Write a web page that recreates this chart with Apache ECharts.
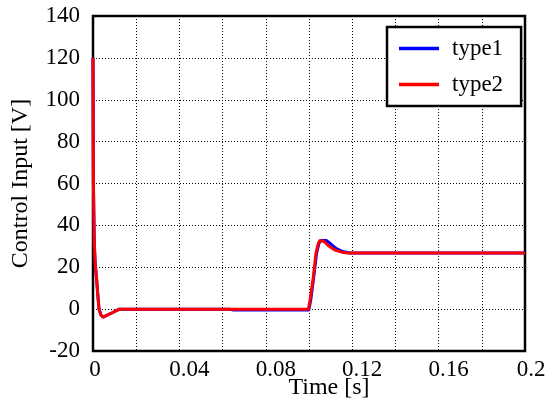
<!DOCTYPE html>
<html>
<head>
<meta charset="utf-8">
<script src="https://cdn.jsdelivr.net/npm/echarts@6/dist/echarts.min.js"></script>
<style>html,body{margin:0;padding:0;background:#fff;}#c{width:553px;height:403px;}</style>
</head>
<body>
<div id="c"></div>
<script>
// ---- data ----
const seriesNames = ['type1', 'type2'];
const xTickLabels = ['0', '0.04', '0.08', '0.12', '0.16', '0.2'];
const yTickLabels = ['-20', '0', '20', '40', '60', '80', '100', '120', '140'];

const time1 = [0, 0.0001, 0.0002, 0.0004, 0.0006, 0.001, 0.0017, 0.0022, 0.0028, 0.0037, 0.0047, 0.008, 0.0122, 0.063, 0.065, 0.0999, 0.1008, 0.1022, 0.1035, 0.1046, 0.1054, 0.1062, 0.108, 0.110, 0.1125, 0.1155, 0.119, 0.2];
const type1 = [120, 90, 60, 45, 31.5, 22, 14, 7, 0, -2.8, -3.8, -2.2, 0, 0, -0.4, -0.4, 4.3, 15.4, 26.6, 31.4, 32.8, 33.2, 32.8, 31.2, 29, 27.5, 26.8, 26.8];

const time2 = [0, 0.0001, 0.0002, 0.0004, 0.0006, 0.001, 0.0017, 0.0022, 0.0028, 0.0037, 0.0047, 0.008, 0.0122, 0.06, 0.0997, 0.1005, 0.102, 0.1032, 0.1043, 0.105, 0.1059, 0.107, 0.109, 0.112, 0.1159, 0.118, 0.2];
const type2 = [120, 90, 60, 45, 31.5, 22, 14, 7, 0, -2.8, -3.8, -2.2, 0, 0, 0, 4.3, 15.4, 26.6, 31.4, 32.8, 33, 32.3, 30.3, 28.2, 27, 26.8, 26.8];

const pairs = (t, v) => t.map((x, i) => [x, v[i]]);

const FONT = '"Liberation Serif", "DejaVu Serif", serif';
const txt = {fontFamily: FONT, fontSize: 23, color: '#000'};
const chart = echarts.init(document.getElementById('c'), null, {renderer: 'canvas'});
chart.setOption({
  animation: false,
  backgroundColor: '#fff',
  grid: {
    left: 93, right: 28, top: 16, bottom: 52,
    containLabel: false, outerBoundsMode: 'none',
    show: true, borderColor: '#000', borderWidth: 2.5, backgroundColor: 'transparent'
  },
  legend: {
    orient: 'vertical',
    left: 387, top: 27,
    data: seriesNames,
    icon: 'rect',
    itemWidth: 40, itemHeight: 3.5,
    itemGap: 13,
    padding: [10, 18, 10, 12],
    backgroundColor: '#fff',
    borderColor: '#000', borderWidth: 2.5, borderRadius: 0,
    textStyle: Object.assign({padding: [0, 0, 0, 8]}, txt)
  },
  xAxis: {
    type: 'value', min: 0, max: 0.2, interval: 0.02,
    name: 'Time [s]', nameLocation: 'middle', nameGap: 25, nameMoveOverlap: false,
    nameTextStyle: Object.assign({}, txt, {fontSize: 24, padding: [0, 0, 0, 40]}),
    axisLine: {show: false},
    axisTick: {show: false},
    axisLabel: Object.assign({
      margin: 7,
      showMinLabel: true, showMaxLabel: true,
      formatter: v => {
        const k = Math.round(v / 0.02);
        if (k % 2) return '';
        const s = xTickLabels[k / 2];
        const tag = s.length === 1 ? 'p1' : (s.length === 3 ? 'p3' : 'p4');
        return '{' + tag + '|' + s + '}';
      },
      rich: {
        p1: Object.assign({padding: [0, 0, 0, 4]}, txt),
        p3: Object.assign({padding: [0, 0, 0, 12]}, txt),
        p4: Object.assign({padding: [0, 0, 0, 20]}, txt)
      }
    }, txt),
    splitLine: {show: true, lineStyle: {color: '#000', width: 1, type: [1, 2]}}
  },
  yAxis: {
    type: 'value', min: -20, max: 140, interval: 20,
    name: 'Control Input [V]', nameLocation: 'middle', nameGap: 60, nameMoveOverlap: false,
    nameTextStyle: Object.assign({}, txt, {fontSize: 24}),
    axisLine: {show: false},
    axisTick: {show: false},
    axisLabel: Object.assign({
      margin: 13,
      formatter: v => yTickLabels[Math.round((v + 20) / 20)]
    }, txt),
    splitLine: {show: true, lineStyle: {color: '#000', width: 1, type: [1, 2]}}
  },
  series: [
    {name: seriesNames[0], type: 'line', data: pairs(time1, type1), showSymbol: false,
     lineStyle: {color: '#0000ff', width: 3}, itemStyle: {color: '#0000ff'}},
    {name: seriesNames[1], type: 'line', data: pairs(time2, type2), showSymbol: false,
     lineStyle: {color: '#ff0000', width: 3}, itemStyle: {color: '#ff0000'}}
  ]
});
</script>
</body>
</html>
